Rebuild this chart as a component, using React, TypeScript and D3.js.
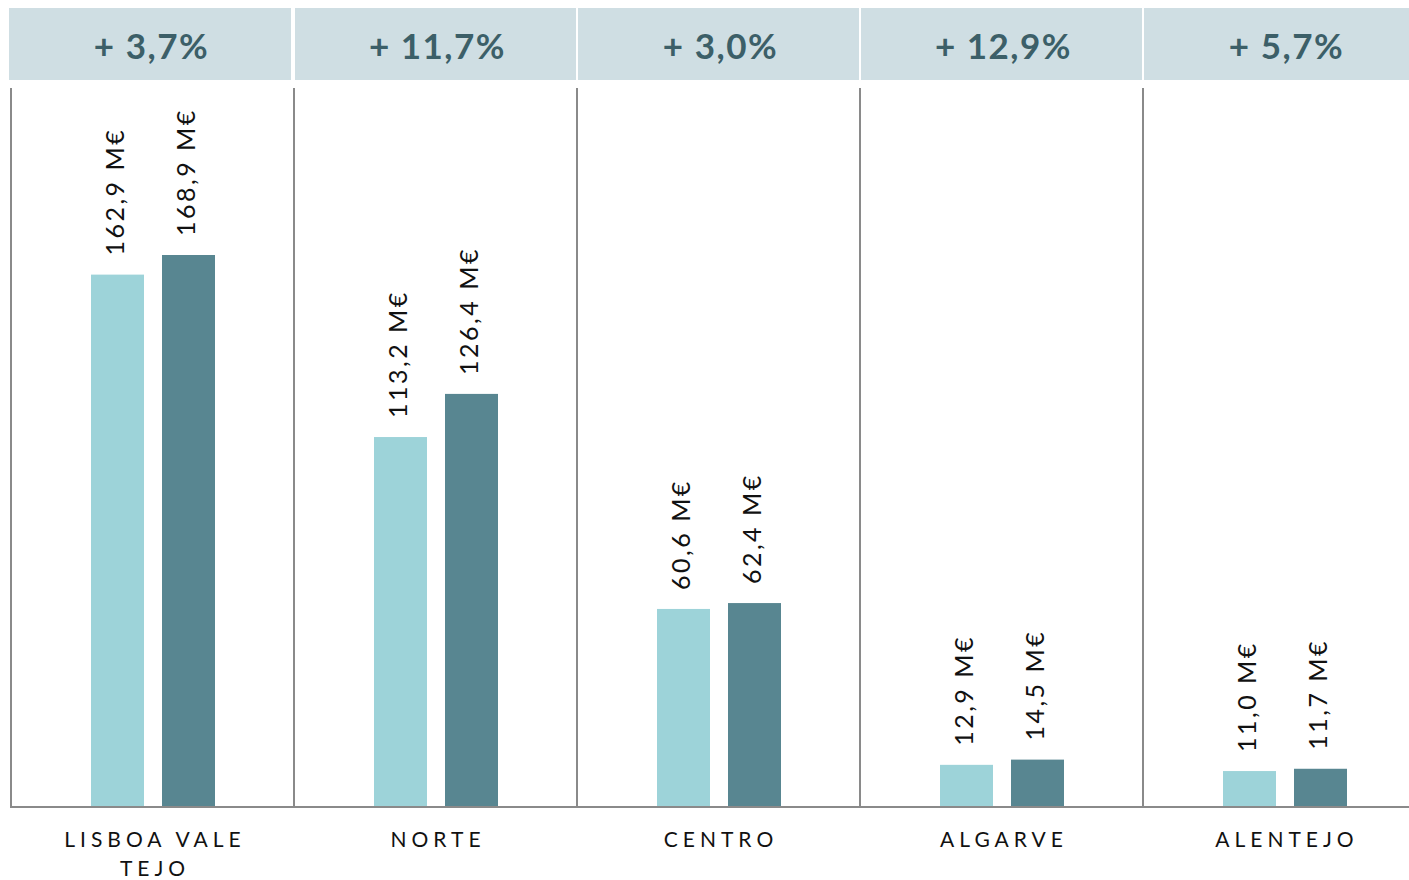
import React from "react";
import * as d3 from "d3";

const regions = ["LISBOA VALE TEJO", "NORTE", "CENTRO", "ALGARVE", "ALENTEJO"];
const regionLines = [["LISBOA VALE", "TEJO"], ["NORTE"], ["CENTRO"], ["ALGARVE"], ["ALENTEJO"]];
const valuesPrev = [162.9, 113.2, 60.6, 12.9, 11.0];
const valuesCurr = [168.9, 126.4, 62.4, 14.5, 11.7];
const growth = ["+ 3,7%", "+ 11,7%", "+ 3,0%", "+ 12,9%", "+ 5,7%"];
const series = ["prev", "curr"];

const W = 1409;
const H = 880;
const FONT = "Lato, 'Open Sans', 'DejaVu Sans', sans-serif";
const fmt = (v: number) => v.toFixed(1).replace(".", ",") + " M€";

export default function App() {
  const x = d3.scaleBand<string>().domain(regions).range([11, 11 + 283 * 5]).padding(0);
  const colW = x.bandwidth();
  const inner = d3.scaleBand<string>().domain(series).range([80, 204]).paddingInner(18 / 71).paddingOuter(0);
  const y = d3.scaleLinear().domain([0, 220]).range([807, 88]);
  const colors: Record<string, string> = { prev: "#9dd3d9", curr: "#588691" };

  return (
    <svg width={W} height={H} style={{ position: "absolute", left: 0, top: 0, background: "#fff" }}>
      {regions.map((r, i) => {
        const x0 = x(r)!;
        const bx = i === 0 ? 9 : x0 + 1;
        const bw = i === 0 ? 282 : Math.min(281, W - bx);
        return (
          <g key={r}>
            <rect x={bx} y={8} width={bw} height={72} fill="#cfdee3" />
            <text
              x={x0 + colW / 2 + (i === 0 ? -1 : 2)}
              y={50}
              textAnchor="middle"
              dominantBaseline="middle"
              fontFamily={FONT}
              fontWeight={700}
              fontSize={35}
              fill="#3c5f68"
              letterSpacing={1.5}
            >
              {growth[i]}
            </text>
            <line x1={x0} x2={x0} y1={88} y2={807} stroke="#8a8a8a" strokeWidth={2} />
            {series.map((s) => {
              const v = s === "prev" ? valuesPrev[i] : valuesCurr[i];
              const bx2 = x0 + inner(s)!;
              const bwid = inner.bandwidth();
              const cx = bx2 + bwid / 2;
              return (
                <g key={s}>
                  <rect x={bx2} y={y(v)} width={bwid} height={807 - y(v)} fill={colors[s]} />
                  <text
                    transform={`translate(${cx},${y(v) - 19}) rotate(-90)`}
                    textAnchor="start"
                    dominantBaseline="middle"
                    fontFamily={FONT}
                    fontSize={25}
                    letterSpacing={2.5}
                    fill="#111"
                  >
                    {fmt(v)}
                  </text>
                </g>
              );
            })}
            {regionLines[i].map((ln, k) => (
              <text
                key={k}
                x={x0 + colW / 2 + 2.5}
                y={847 + k * 29}
                textAnchor="middle"
                fontFamily={FONT}
                fontSize={21}
                letterSpacing={5}
                fill="#111"
              >
                {ln}
              </text>
            ))}
          </g>
        );
      })}
      <line x1={10} x2={W} y1={807} y2={807} stroke="#8a8a8a" strokeWidth={2} />
    </svg>
  );
}
